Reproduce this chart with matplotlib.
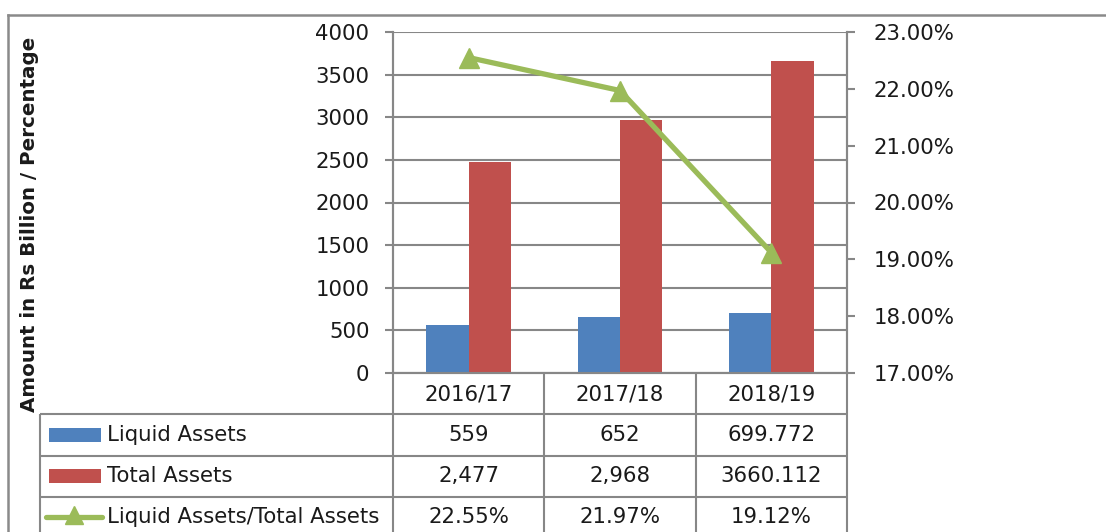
import matplotlib
matplotlib.use("Agg")
import matplotlib.pyplot as plt
from matplotlib.lines import Line2D
from matplotlib.patches import Rectangle
from matplotlib.ticker import FuncFormatter, MultipleLocator
from matplotlib.transforms import blended_transform_factory

# ---------------- data ----------------
categories = ["2016/17", "2017/18", "2018/19"]
liquid_assets = [559, 652, 699.772]
total_assets = [2477, 2968, 3660.112]
ratio_pct = [22.55, 21.97, 19.12]

series_names = ["Liquid Assets", "Total Assets", "Liquid Assets/Total Assets"]
table_text = [
    ["559", "652", "699.772"],
    ["2,477", "2,968", "3660.112"],
    ["22.55%", "21.97%", "19.12%"],
]
y_label = "Amount in Rs Billion / Percentage"

# ---------------- style ----------------
W, H = 1106, 532
BLUE, RED, GREEN = "#4F81BD", "#C0504D", "#9BBB59"
GRID = "#878787"
TXT = "#1a1a1a"
FS = 15.3

plt.rcParams["font.family"] = ["DejaVu Sans"]

fig = plt.figure(figsize=(W / 100, H / 100), dpi=100)
fig.patch.set_facecolor("white")


def fx(px):
    return px / W


def fy(py):
    return 1 - py / H


ax = fig.add_axes([fx(393), fy(373), fx(847) - fx(393), fy(32) - fy(373)])
ax2 = ax.twinx()

x = list(range(len(categories)))
bw = 0.28
ax.bar([i - bw / 2 for i in x], liquid_assets, width=bw, color=BLUE, zorder=3)
ax.bar([i + bw / 2 for i in x], total_assets, width=bw, color=RED, zorder=3)
ax.set_xlim(-0.5, len(categories) - 0.5)
ax.set_ylim(0, 4000)
ax.yaxis.set_major_locator(MultipleLocator(500))
ax.grid(axis="y", color=GRID, lw=1.5, zorder=0)
ax.set_axisbelow(True)
ax.set_xticks([])
ax.tick_params(axis="y", direction="out", length=6, width=1.5, color=GRID,
               labelsize=FS, labelcolor=TXT, pad=11)

ax2.plot(x, ratio_pct, color=GREEN, lw=3.8, marker="^", markersize=15,
         markerfacecolor=GREEN, markeredgecolor=GREEN, zorder=5)
ax2.set_ylim(17, 23)
ax2.yaxis.set_major_locator(MultipleLocator(1))
ax2.yaxis.set_major_formatter(FuncFormatter(lambda v, p: f"{v:.2f}%"))
ax2.tick_params(axis="y", direction="out", length=6, width=1.5, color=GRID,
                labelsize=FS, labelcolor=TXT, pad=13)

for a in (ax, ax2):
    a.spines["top"].set_visible(False)
    for s in ("left", "right", "bottom"):
        a.spines[s].set_color(GRID)
        a.spines[s].set_linewidth(1.5)

# ---------------- table below ----------------
bt = blended_transform_factory(ax.transData, fig.transFigure)
ft = fig.transFigure
row_lines = [414, 455.7, 497]
row_centers = [435, 476, 517]
header_center = 394

lk = dict(color=GRID, lw=1.5, solid_capstyle="butt")
for ry in row_lines:
    fig.add_artist(Line2D([fx(40), fx(847)], [fy(ry), fy(ry)], transform=ft, **lk))
fig.add_artist(Line2D([fx(40), fx(40)], [fy(414), fy(H)], transform=ft, **lk))
for xv in [-0.5 + k for k in range(len(categories) + 1)]:
    fig.add_artist(Line2D([xv, xv], [fy(373), fy(H)], transform=bt, **lk))

for i, c in enumerate(categories):
    fig.text(i, fy(header_center), c, transform=bt, ha="center", va="center",
             fontsize=FS, color=TXT)
for r, row in enumerate(table_text):
    for i, t in enumerate(row):
        fig.text(i, fy(row_centers[r]), t, transform=bt, ha="center", va="center",
                 fontsize=FS, color=TXT)

sw_x0, sw_x1 = 49, 101
for r, (name, col) in enumerate(zip(series_names, [BLUE, RED, GREEN])):
    cy = row_centers[r]
    if r < 2:
        fig.add_artist(Rectangle((fx(sw_x0), fy(cy + 7)), fx(sw_x1) - fx(sw_x0),
                                 fy(cy - 7) - fy(cy + 7), transform=ft,
                                 facecolor=col, edgecolor="none"))
    else:
        fig.add_artist(Line2D([fx(46), fx(102)], [fy(cy), fy(cy)], transform=ft,
                              color=col, lw=3.8, solid_capstyle="round"))
        fig.add_artist(Line2D([fx(74)], [fy(cy - 2)], transform=ft, marker="^",
                              markersize=13, color=col, lw=0))
    fig.text(fx(107), fy(cy), name, transform=ft, ha="left", va="center",
             fontsize=FS, color=TXT)

fig.text(fx(30), fy(224), y_label, rotation=90, ha="center", va="center",
         fontsize=14.3, fontweight="bold", color=TXT)

fig.add_artist(Line2D([fx(8), fx(W + 5)], [fy(15), fy(15)], transform=ft,
                      color="#8a8a8a", lw=1.8))
fig.add_artist(Line2D([fx(8), fx(8)], [fy(15), fy(H + 5)], transform=ft,
                      color="#8a8a8a", lw=1.8))

fig.savefig("out.png", dpi=100, facecolor="white")
